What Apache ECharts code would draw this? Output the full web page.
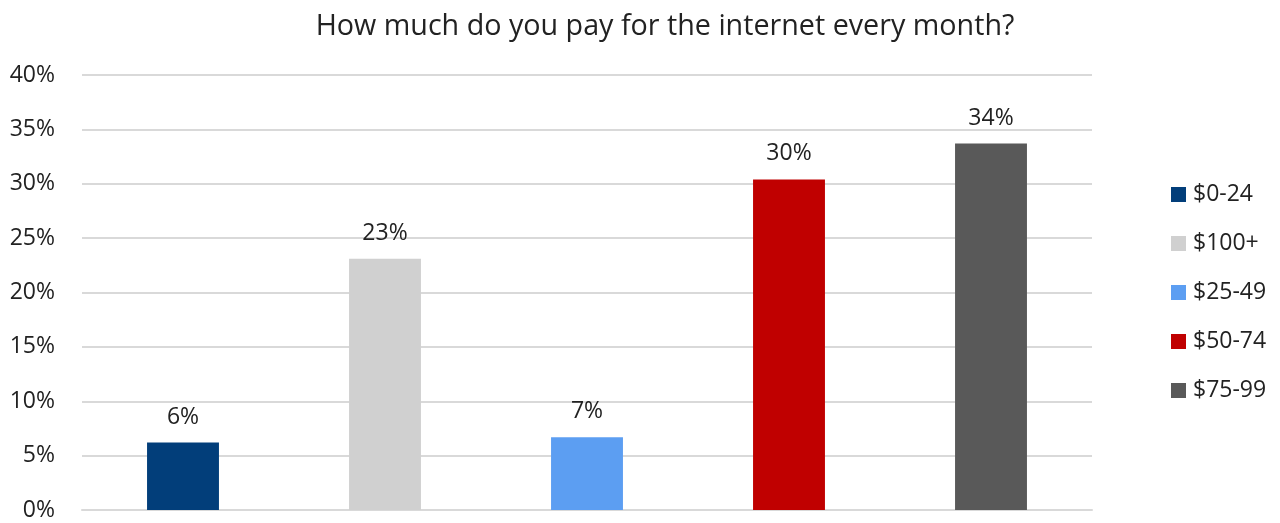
<!DOCTYPE html>
<html>
<head>
<meta charset="utf-8">
<script src="https://cdn.jsdelivr.net/npm/echarts@6/dist/echarts.min.js"></script>
<style>
  html, body { margin: 0; padding: 0; background: #fff; }
  #chart { width: 1280px; height: 523px; }
</style>
</head>
<body>
<div id="chart"></div>
<script>
// Monthly internet spend, share of respondents (%)
const categories = ['$0-24', '$100+', '$25-49', '$50-74', '$75-99'];
const shares = [6.2, 23.1, 6.7, 30.4, 33.7];
const colors = ['#023e7a', '#d0d0d0', '#5c9ef2', '#c00000', '#595959'];
const yTicks = [0, 5, 10, 15, 20, 25, 30, 35, 40];

const font = '"Open Sans", "Noto Sans", sans-serif';
const textColor = '#222222';

// One series per bracket so each gets its own legend entry;
// stacking keeps every bar centred in its own category slot.
const series = categories.map((name, i) => ({
  name: name,
  type: 'bar',
  stack: 'all',
  barWidth: '35.6%',
  itemStyle: { color: colors[i] },
  label: {
    show: true,
    position: 'top',
    distance: 14,
    fontFamily: font,
    fontSize: 23,
    color: textColor,
    formatter: p => Math.round(p.value) + '%'
  },
  data: categories.map((c, j) => (j === i ? shares[i] : '-'))
}));

const chart = echarts.init(document.getElementById('chart'), null, { renderer: 'canvas' });
chart.setOption({
  animation: false,
  backgroundColor: '#ffffff',
  title: {
    text: 'How much do you pay for the internet every month?',
    left: 660,
    textAlign: 'center',
    top: 7,
    textStyle: { fontFamily: font, fontSize: 28.7, fontWeight: 'normal', color: textColor }
  },
  legend: {
    orient: 'vertical',
    left: 1166,
    top: 178,
    itemWidth: 15,
    itemHeight: 15,
    itemGap: 26,
    icon: 'rect',
    data: categories,
    textStyle: { fontFamily: font, fontSize: 23, color: textColor, padding: [0, 0, 0, 2] }
  },
  grid: { left: 82, right: 188, top: 75, bottom: 13 },
  xAxis: {
    type: 'category',
    data: categories,
    axisLine: { show: true, lineStyle: { color: '#d9d9d9', width: 2 } },
    axisTick: { show: false },
    axisLabel: { show: false }
  },
  yAxis: {
    type: 'value',
    min: yTicks[0],
    max: yTicks[yTicks.length - 1],
    interval: yTicks[1] - yTicks[0],
    axisLine: { show: false },
    axisTick: { show: false },
    axisLabel: {
      fontFamily: font,
      fontSize: 23,
      color: textColor,
      margin: 27,
      formatter: v => v + '%'
    },
    splitLine: { lineStyle: { color: '#d9d9d9', width: 2 } }
  },
  series: series
});
</script>
</body>
</html>
